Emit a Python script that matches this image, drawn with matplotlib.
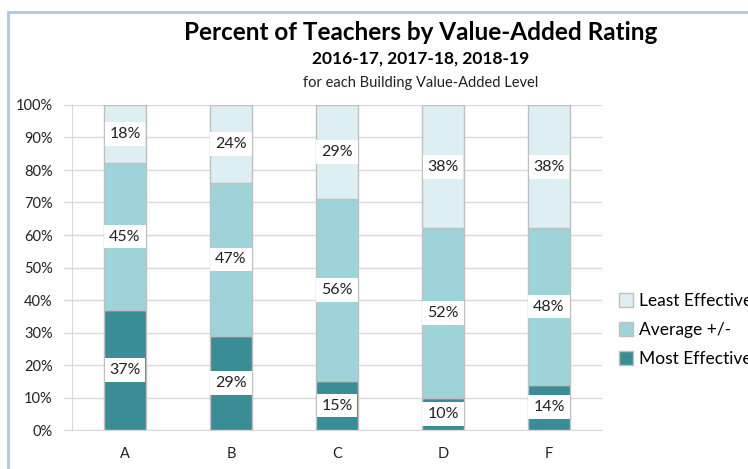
import matplotlib.pyplot as plt
import numpy as np
from matplotlib.patches import Rectangle

plt.rcParams['font.family'] = ['Lato', 'DejaVu Sans']

levels = ['A', 'B', 'C', 'D', 'F']
most = [37, 29, 15, 10, 14]
average = [45, 47, 56, 52, 48]
least = [18, 24, 29, 38, 38]
series_names = ['Most Effective', 'Average +/-', 'Least Effective']
colors = ['#3A8D97', '#9ED3DA', '#DDEFF2']

fig = plt.figure(figsize=(7.48, 4.69), dpi=100)
ax = fig.add_axes([72/748, 1 - 430/469, 530/748, 325/469])

# chart frame
fig.patches.append(Rectangle((8/748, -0.1), 1.2, 1 - 12/469 + 0.1, transform=fig.transFigure,
                             fill=False, edgecolor='#A9C8E8', linewidth=2))

x = np.arange(len(levels))
bottom = np.zeros(len(levels))
for vals, name, col in zip([most, average, least], series_names, colors):
    bars = ax.bar(x, vals, 0.4, bottom=bottom, color=col, edgecolor='#BFBFBF',
                  linewidth=1, label=name, zorder=3)
    for xi, b, v in zip(x, bottom, vals):
        ax.text(xi, b + v / 2, f'{v}%', ha='center', va='center', fontsize=11.5,
                color='#222222', zorder=4,
                bbox=dict(boxstyle='square,pad=0.3', fc='white', ec='none'))
    bottom = bottom + np.array(vals)

ax.set_xlim(-0.5, 4.5)
ax.set_ylim(0, 100)
ax.set_yticks(range(0, 101, 10))
ax.set_yticklabels([f'{t}%' for t in range(0, 101, 10)])
ax.set_xticks(x)
ax.set_xticklabels(levels)
ax.tick_params(axis='both', labelsize=10.5, colors='#222222', length=0)
ax.tick_params(axis='y', pad=14)
ax.tick_params(axis='x', pad=12)
ax.grid(axis='y', color='#D9D9D9', linewidth=1, zorder=0)
for s in ['top', 'right']:
    ax.spines[s].set_visible(False)
ax.spines['left'].set_color('#D9D9D9')
ax.spines['bottom'].set_color('#D9D9D9')
# small ticks on y axis
for t in range(0, 101, 10):
    ax.plot([-0.58, -0.5], [t, t], color='#D9D9D9', lw=1, clip_on=False)

fig.text(421/748, 1 - 33/469, 'Percent of Teachers by Value-Added Rating', ha='center',
         va='center', fontsize=17.5, fontweight='bold', color='black')
fig.text(421/748, 1 - 59/469, '2016-17, 2017-18, 2018-19', ha='center', va='center',
         fontsize=12.5, fontweight='bold', color='black')
fig.text(421/748, 1 - 83/469, 'for each Building Value-Added Level', ha='center',
         va='center', fontsize=10.5, color='#222222')

handles, labels = ax.get_legend_handles_labels()
fig.legend(handles[::-1], labels[::-1], loc='center left', bbox_to_anchor=(603/748, 1 - 330/469),
           frameon=False, fontsize=12.5, handlelength=0.8, handleheight=0.8,
           handletextpad=0.4, labelspacing=0.75)

fig.savefig('out.png', dpi=100)
